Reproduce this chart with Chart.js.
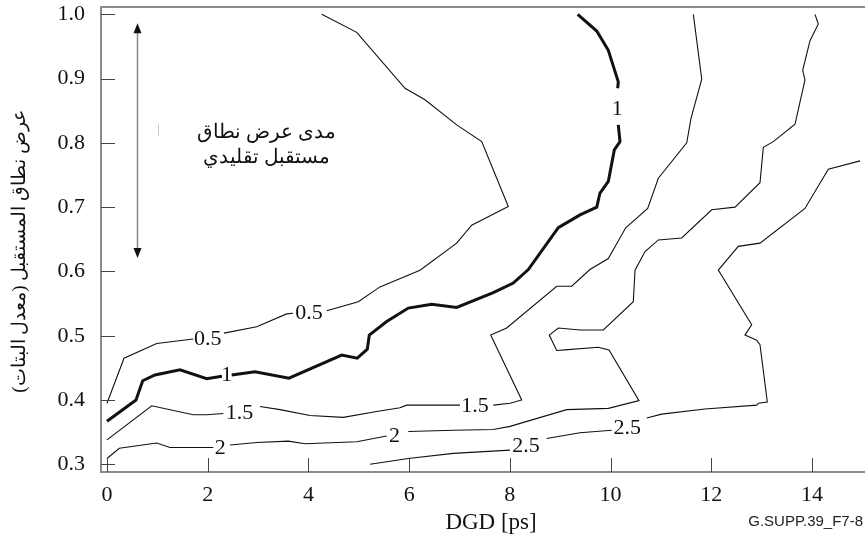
<!DOCTYPE html>
<html><head><meta charset="utf-8">
<script src="https://cdn.jsdelivr.net/npm/chart.js@4.4.1/dist/chart.umd.min.js"></script>
<style>html,body{margin:0;padding:0;background:#fff;}#wrap{width:865px;height:541px;}</style>
</head><body><div id="wrap"><canvas id="c" width="865" height="541"></canvas></div>
<script>
// ---- data ----
const xTickValues = [0, 2, 4, 6, 8, 10, 12, 14];
const yTickValues = [0.3, 0.4, 0.5, 0.6, 0.7, 0.8, 0.9, 1.0];

const c05X = [0.00, 0.338, 0.987, 1.714, null, 2.323, 2.973, 3.568, 3.694, null, 4.363, 4.990, 5.421, 6.216, 6.944, 7.242, 7.969, 7.441, 6.944, 6.315, 5.918, 4.959, 4.264];
const c05Y = [0.395, 0.465, 0.488, 0.495, null, 0.504, 0.514, 0.534, 0.535, null, 0.539, 0.553, 0.576, 0.602, 0.644, 0.672, 0.701, 0.802, 0.828, 0.867, 0.885, 0.972, 1.000];

const c10X = [0.00, 0.576, 0.709, 0.953, 1.450, 1.980, 2.283, null, 2.476, 2.939, 3.614, 4.661, 4.970, 5.169, 5.209, 5.554, 5.983, 6.448, 6.944, 7.671, 8.068, 8.366, 8.962, 9.393, 9.725, 9.790, 9.955, 10.074, 10.187, 10.153, null, 10.141, 10.153, 9.955, 9.725, 9.347];
const c10Y = [0.367, 0.400, 0.430, 0.439, 0.447, 0.433, 0.437, null, 0.439, 0.444, 0.434, 0.470, 0.465, 0.479, 0.501, 0.522, 0.543, 0.549, 0.544, 0.567, 0.582, 0.603, 0.668, 0.688, 0.700, 0.722, 0.740, 0.789, 0.802, 0.828, null, 0.885, 0.895, 0.944, 0.974, 1.000];

const c15X = [0.00, 0.888, 1.714, 1.980, 2.310, null, 3.038, 3.435, 4.031, 4.692, 5.356, 5.818, 5.951, 7.010, null, 7.671, 8.003, 8.235, 7.619, 7.937, 8.930, 9.228, 9.591, 9.955, 10.300, 10.737, 10.948, 11.512, 11.597, 11.810, 11.643];
const c15Y = [0.338, 0.391, 0.377, 0.377, 0.379, null, 0.390, 0.385, 0.376, 0.373, 0.382, 0.388, 0.392, 0.392, null, 0.392, 0.395, 0.400, 0.501, 0.512, 0.577, 0.577, 0.603, 0.620, 0.668, 0.698, 0.745, 0.800, 0.838, 0.899, 1.000];

const c20X = [0.00, 0.244, 0.987, 1.251, 2.111, null, 2.443, 2.973, 3.600, 3.932, 4.959, 5.554, null, 5.983, 6.877, 7.671, 8.003, 9.129, 9.955, 10.564, 9.969, 9.756, 9.095, 8.930, 8.783, 8.962, 9.393, 9.856, 10.451, 10.485, 10.684, 10.948, 11.412, 12.008, 12.471, 12.967, 13.033, 13.231, 13.662, 13.860, 13.815, 13.960, 14.125, 14.059];
const c20Y = [0.309, 0.325, 0.333, 0.326, 0.326, null, 0.330, 0.334, 0.336, 0.332, 0.335, 0.344, null, 0.351, 0.353, 0.354, 0.359, 0.385, 0.387, 0.399, 0.478, 0.482, 0.478, 0.477, 0.501, 0.512, 0.509, 0.509, 0.553, 0.602, 0.631, 0.649, 0.652, 0.696, 0.700, 0.738, 0.793, 0.802, 0.829, 0.898, 0.913, 0.959, 0.985, 1.000];

const c25X = [5.223, 5.983, 6.877, 8.003, null, 8.731, 9.393, 10.022, null, 10.717, 11.015, 11.875, 12.902, 12.934, 13.112, 12.967, 12.902, 12.669, 12.802, 12.139, 12.536, 12.967, 13.860, 14.323, 14.953];
const c25Y = [0.300, 0.309, 0.317, 0.322, null, 0.340, 0.349, 0.353, null, 0.372, 0.378, 0.386, 0.392, 0.395, 0.397, 0.486, 0.493, 0.501, 0.517, 0.602, 0.639, 0.644, 0.698, 0.759, 0.772];

const labelText = ['0.5', '0.5', '1', '1', '1.5', '1.5', '2', '2', '2.5', '2.5'];
const labelX = [2.00, 4.01, 2.38, 10.13, 2.63, 7.31, 2.25, 5.71, 8.32, 10.33];
const labelY = [0.495, 0.535, 0.439, 0.853, 0.379, 0.391, 0.325, 0.344, 0.328, 0.356];

const noteLines = ['مدى عرض نطاق', 'مستقبل تقليدي'];
const arrowX = 0.596, arrowTop = 0.986, arrowBottom = 0.621;
const xTitle = 'DGD [ps]';
const yTitle = 'عرض نطاق المستقبل (معدل البتات)';
const figId = 'G.SUPP.39_F7-8';

// ---- build ----
const pts = (xs, ys) => xs.map((v, i) => ({x: v, y: ys[i]}));
const SERIF = "'Liberation Serif', 'Times New Roman', serif";

function ds(xs, ys, w) {
  return {data: pts(xs, ys), borderColor: '#111', borderWidth: w, pointRadius: 0,
          tension: 0, spanGaps: false, fill: false, showLine: true};
}

const decor = {
  id: 'decor',
  afterDraw(chart) {
    const {ctx, chartArea: a, scales: {x, y}} = chart;
    ctx.save();
    // top frame line
    ctx.strokeStyle = '#8c8c8c'; ctx.lineWidth = 2;
    ctx.beginPath(); ctx.moveTo(a.left, a.top); ctx.lineTo(a.right, a.top); ctx.stroke();
    // inside tick marks
    ctx.strokeStyle = '#444'; ctx.lineWidth = 1;
    ctx.beginPath();
    xTickValues.forEach(v => { const p = Math.round(x.getPixelForValue(v)) + 0.5; ctx.moveTo(p, a.bottom); ctx.lineTo(p, a.bottom - 14); });
    yTickValues.forEach(v => { const p = Math.round(y.getPixelForValue(v)) + 0.5; ctx.moveTo(a.left, p); ctx.lineTo(a.left + 14, p); });
    ctx.stroke();
    // contour labels
    ctx.fillStyle = '#111'; ctx.font = '22px ' + SERIF;
    ctx.textAlign = 'center'; ctx.textBaseline = 'middle';
    labelText.forEach((t, i) => ctx.fillText(t, x.getPixelForValue(labelX[i]), y.getPixelForValue(labelY[i])));
    // double arrow
    const ax = Math.round(x.getPixelForValue(arrowX)) + 0.5;
    const t = y.getPixelForValue(arrowTop), b = y.getPixelForValue(arrowBottom);
    ctx.strokeStyle = '#8a8a8a'; ctx.lineWidth = 1.5;
    ctx.beginPath(); ctx.moveTo(ax, t + 8); ctx.lineTo(ax, b - 8); ctx.stroke();
    ctx.fillStyle = '#111';
    ctx.beginPath(); ctx.moveTo(ax, t); ctx.lineTo(ax - 4, t + 10); ctx.lineTo(ax + 4, t + 10); ctx.closePath(); ctx.fill();
    ctx.beginPath(); ctx.moveTo(ax, b); ctx.lineTo(ax - 4, b - 10); ctx.lineTo(ax + 4, b - 10); ctx.closePath(); ctx.fill();
    // faint mark
    const mx = Math.round(x.getPixelForValue(1.01)) + 0.5;
    ctx.strokeStyle = '#c8c8c8'; ctx.lineWidth = 1;
    ctx.beginPath(); ctx.moveTo(mx, y.getPixelForValue(0.83)); ctx.lineTo(mx, y.getPixelForValue(0.81)); ctx.stroke();
    // note text
    ctx.fillStyle = '#111'; ctx.font = '19.5px ' + SERIF;
    ctx.textAlign = 'center'; ctx.textBaseline = 'alphabetic';
    const nx = x.getPixelForValue(3.16);
    ctx.fillText(noteLines[0], nx, y.getPixelForValue(0.808));
    ctx.fillText(noteLines[1], nx, y.getPixelForValue(0.768));
    // figure id
    ctx.font = '15px "Liberation Sans", Arial, sans-serif'; ctx.fillStyle = '#222';
    ctx.textAlign = 'right'; ctx.textBaseline = 'middle';
    ctx.fillText(figId, 863, 522);
    ctx.restore();
  }
};

new Chart(document.getElementById('c'), {
  type: 'line',
  data: {datasets: [ds(c05X, c05Y, 1.1), ds(c10X, c10Y, 3), ds(c15X, c15Y, 1.1), ds(c20X, c20Y, 1.1), ds(c25X, c25Y, 1.1)]},
  options: {
    responsive: false, animation: false, devicePixelRatio: 1,
    layout: {padding: {top: 7, right: 0, bottom: 0, left: 0}},
    plugins: {legend: {display: false}, tooltip: {enabled: false}},
    scales: {
      x: {
        type: 'linear', position: 'bottom', min: -0.119, max: 15.052,
        grid: {display: false, drawTicks: false},
        border: {display: true, color: '#8c8c8c', width: 2},
        afterBuildTicks: s => { s.ticks = xTickValues.map(v => ({value: v})); },
        afterFit: s => { s.height = 69; s.paddingLeft = 0; s.paddingRight = 0; },
        ticks: {autoSkip: false, maxRotation: 0, padding: 10, color: '#111', font: {family: SERIF, size: 22},
                callback: v => String(v)},
        title: {display: true, text: '\u00A0\u00A0\u2009' + xTitle, color: '#111', font: {family: SERIF, size: 23}, padding: {top: 0, bottom: 4}}
      },
      y: {
        type: 'linear', min: 0.288, max: 1.0114,
        grid: {display: false, drawTicks: false},
        border: {display: true, color: '#8c8c8c', width: 2},
        afterBuildTicks: s => { s.ticks = yTickValues.map(v => ({value: v})); },
        afterFit: s => { s.width = 101; s.paddingTop = 0; s.paddingBottom = 0; },
        ticks: {autoSkip: false, padding: 16, color: '#111', font: {family: SERIF, size: 22},
                callback: v => Number(v).toFixed(1)},
        title: {display: true, text: yTitle + '\u00A0\u00A0\u00A0\u00A0\u00A0', color: '#111', font: {family: SERIF, size: 19}, padding: {top: 9, bottom: 0}}
      }
    }
  },
  plugins: [decor]
});
</script></body></html>
